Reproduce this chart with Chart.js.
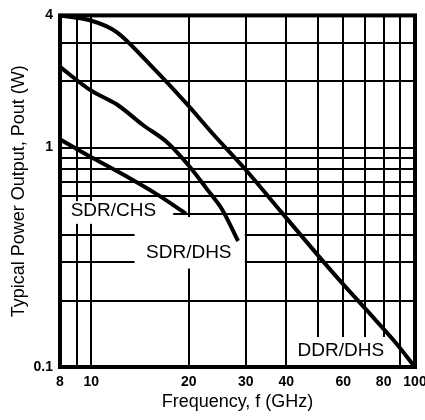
<!DOCTYPE html>
<html>
<head>
<meta charset="utf-8">
<script src="https://cdn.jsdelivr.net/npm/chart.js@4"></script>
<style>
  html, body { margin: 0; padding: 0; background: #fff; }
  #wrap { width: 425px; height: 420px; }
</style>
</head>
<body>
<div id="wrap"><canvas id="power_chart"></canvas></div>
<script>
// grid + tick values (log axes)
var xGrid = [8, 9, 10, 20, 30, 40, 50, 60, 70, 80, 90, 100];
var xTickLabels = [8, 10, 20, 30, 40, 60, 80, 100];
var yGrid = [0.1, 0.2, 0.3, 0.4, 0.5, 0.6, 0.7, 0.8, 0.9, 1, 2, 3, 4];
var yTickLabels = [0.1, 1, 4];

// curves (GHz, W)
var ddrDhsFreq = [8, 9.9, 12, 15.2, 19.5, 23.8, 29.8, 39, 56, 71, 86, 100];
var ddrDhsPower = [4, 3.8, 3.35, 2.38, 1.61, 1.15, 0.8, 0.5, 0.267, 0.181, 0.132, 0.1];

var sdrDhsFreq = [8, 9.9, 12, 14.4, 17.1, 20.1, 22.7, 25.3, 28.4];
var sdrDhsPower = [2.33, 1.83, 1.57, 1.27, 1.06, 0.82, 0.65, 0.525, 0.375];

var sdrChsFreq = [8, 9.9, 12.5, 16, 19.6];
var sdrChsPower = [1.09, 0.91, 0.755, 0.61, 0.5];

// curve names, placed in data coords with a white box behind them
var curveNames = ['SDR/CHS', 'SDR/DHS', 'DDR/DHS'];
var nameAt = [[11.7, 0.514], [20, 0.333], [59, 0.119]];
var nameBox = [[8, 17.9, 0.449, 0.57], [13.6, 29.8, 0.281, 0.482], [41.7, 87.4, 0.1, 0.137]];

function pts(xs, ys) {
    return xs.map(function (x, i) { return { x: x, y: ys[i] }; });
}

var curveStyle = {
    borderColor: '#000',
    borderWidth: 4,
    pointRadius: 0,
    tension: 0.3,
    fill: false
};

var namesPlugin = {
    id: 'curveNames',
    beforeDatasetsDraw: function (chart) {
        var ctx = chart.ctx, xs = chart.scales.x, ys = chart.scales.y, a = chart.chartArea;
        ctx.save();
        ctx.fillStyle = '#fff';
        nameBox.forEach(function (b) {
            var x1 = xs.getPixelForValue(b[0]), x2 = xs.getPixelForValue(b[1]);
            var y1 = ys.getPixelForValue(b[3]), y2 = ys.getPixelForValue(b[2]);
            ctx.fillRect(x1, y1, x2 - x1, y2 - y1);
        });
        ctx.fillStyle = '#000';
        ctx.font = '19px "Liberation Sans", Arial, sans-serif';
        ctx.textAlign = 'center';
        ctx.textBaseline = 'middle';
        curveNames.forEach(function (t, i) {
            ctx.fillText(t, xs.getPixelForValue(nameAt[i][0]), ys.getPixelForValue(nameAt[i][1]));
        });
        // heavy frame
        ctx.strokeStyle = '#000';
        ctx.lineWidth = 4;
        ctx.strokeRect(a.left, a.top, a.right - a.left, a.bottom - a.top);
        ctx.restore();
    }
};

var ctx = document.getElementById('power_chart');
var powerChart = new Chart(ctx, {
    type: 'line',
    data: {
        datasets: [
            Object.assign({ label: 'DDR/DHS', data: pts(ddrDhsFreq, ddrDhsPower) }, curveStyle),
            Object.assign({ label: 'SDR/DHS', data: pts(sdrDhsFreq, sdrDhsPower) }, curveStyle),
            Object.assign({ label: 'SDR/CHS', data: pts(sdrChsFreq, sdrChsPower) }, curveStyle)
        ]
    },
    options: {
        responsive: true,
        maintainAspectRatio: false,
        animation: false,
        layout: { padding: { top: 13, right: 10, left: 0, bottom: 0 } },
        plugins: {
            legend: { display: false },
            tooltip: { enabled: false }
        },
        scales: {
            x: {
                type: 'logarithmic',
                min: 8,
                max: 100,
                afterBuildTicks: function (scale) {
                    scale.ticks = xGrid.map(function (v) { return { value: v }; });
                },
                afterFit: function (scale) {
                    scale.height = 53;
                    scale.paddingLeft = 0;
                    scale.paddingRight = 0;
                },
                grid: { color: '#000', lineWidth: 2, drawTicks: false },
                border: { display: false },
                ticks: {
                    autoSkip: false,
                    maxRotation: 0,
                    padding: 7,
                    color: '#000',
                    font: { family: '"Liberation Sans", Arial, sans-serif', size: 14, weight: 'bold' },
                    callback: function (v) { return xTickLabels.indexOf(v) >= 0 ? String(v) : ''; }
                },
                title: {
                    display: true,
                    text: 'Frequency, f (GHz)',
                    color: '#000',
                    padding: { top: 0, bottom: 7 },
                    font: { family: '"Liberation Sans", Arial, sans-serif', size: 18 }
                }
            },
            y: {
                type: 'logarithmic',
                min: 0.1,
                max: 4,
                afterBuildTicks: function (scale) {
                    scale.ticks = yGrid.map(function (v) { return { value: v }; });
                },
                afterFit: function (scale) {
                    scale.width = 60;
                },
                grid: { color: '#000', lineWidth: 2, drawTicks: false },
                border: { display: false },
                ticks: {
                    autoSkip: false,
                    padding: 7,
                    color: '#000',
                    font: { family: '"Liberation Sans", Arial, sans-serif', size: 14, weight: 'bold' },
                    callback: function (v) { return yTickLabels.indexOf(v) >= 0 ? String(v) : ''; }
                },
                title: {
                    display: true,
                    text: 'Typical Power Output, Pout (W)',
                    color: '#000',
                    padding: { top: 8, bottom: 0 },
                    font: { family: '"Liberation Sans", Arial, sans-serif', size: 18 }
                }
            }
        }
    },
    plugins: [namesPlugin]
});
</script>
</body>
</html>
